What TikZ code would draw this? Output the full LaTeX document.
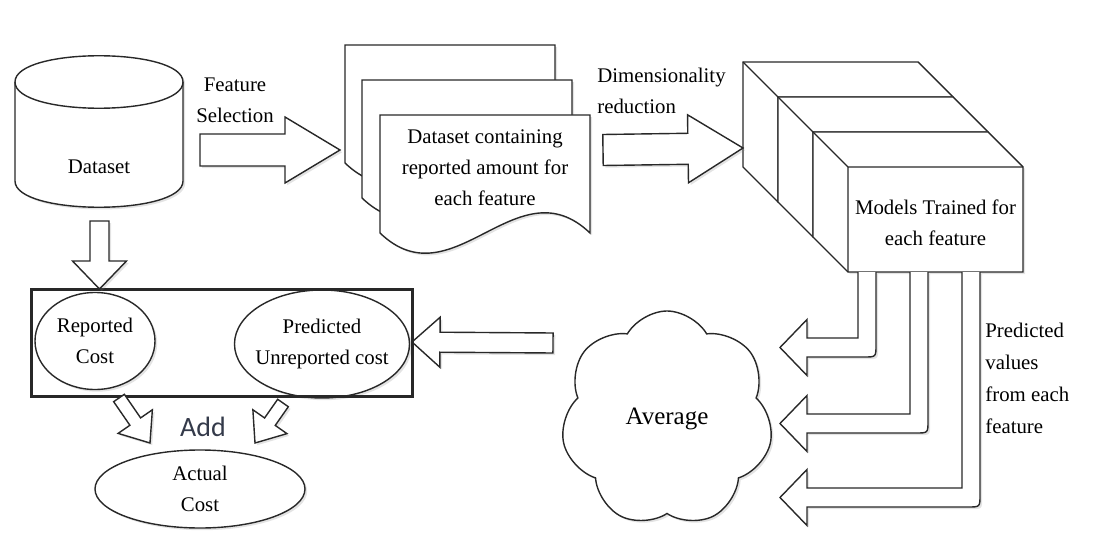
\documentclass[tikz,border=0pt]{standalone}
\usepackage{fontspec}
\setmainfont{Liberation Serif}
\newfontfamily\addfont{Carlito}
\usetikzlibrary{calc,shapes.geometric,shapes.symbols,shadows}

\definecolor{inkgray}{RGB}{40,40,40}
\definecolor{addblue}{RGB}{52,58,74}

\tikzset{
  shape line/.style={draw=inkgray, line width=0.7pt, fill=white,
    drop shadow={opacity=0.22, shadow xshift=1.1pt, shadow yshift=-1.1pt}},
  plain line/.style={draw=inkgray, line width=0.7pt},
  cost/.style={shape line, ellipse, inner sep=0pt},
  caption/.style={inner sep=0pt, align=center},
}

% block arrow: tail, tip, shaft half width, head half width, head length
\newcommand{\blockarrow}[5]{%
  \coordinate (hb) at ($(#2)!#5!(#1)$);
  \draw[shape line] ($(#1)!#3!90:(#2)$) -- ($(hb)!#3!90:(#2)$) -- ($(hb)!#4!90:(#2)$)
    -- (#2) -- ($(hb)!#4!-90:(#2)$) -- ($(hb)!#3!-90:(#2)$) -- ($(#1)!#3!-90:(#2)$) -- cycle;}

\newcommand{\docsheet}[1]{%
  \draw[shape line, shift={(#1)}] (0,0) -- (210,0) -- (210,118)
    .. controls (137,48) and (73,188) .. (0,118) -- cycle;}

\newcommand{\modelslab}[1]{%
  \draw[shape line, shift={(#1)}] (-35,-35) -- (140,-35) -- (175,0) -- (175,105)
    -- (0,105) -- (-35,70) -- cycle;
  \draw[plain line, shift={(#1)}] (-35,-35) -- (0,0) -- (175,0) (0,0) -- (0,105);}

% bent arrow out of the models: inner x, inner y
\newcommand{\bentarrow}[2]{%
  \draw[shape line] (#1,272) -- (#1,#2) -- (807,#2) -- (807,{#2-18.5}) -- (780,{#2+9.5})
    -- (807,{#2+37.5}) -- (807,{#2+19}) -- ({#1+6},{#2+19})
    .. controls ({#1+18},{#2+19}) .. ({#1+18},{#2+7}) -- ({#1+18},272);}

\begin{document}
\begin{tikzpicture}[x=0.5pt, y=-0.5pt, font=\fontsize{10.4}{15.5}\selectfont]
  \useasboundingbox (0,0) rectangle (1098,556);

  % dataset
  \draw[shape line] (15,82) -- (15,181) .. controls (15,216) and (183,216) .. (183,181)
    -- (183,82) .. controls (183,47) and (15,47) .. (15,82) -- cycle;
  \draw[plain line] (15,82) .. controls (15,117) and (183,117) .. (183,82);
  \node (dataset) at (99,167) {Dataset};

  % documents
  \docsheet{345,45}
  \docsheet{362,80}
  \docsheet{380,115}
  \node[caption] (docs) at (485,168) {Dataset containing\\reported amount for\\each feature};

  % models
  \modelslab{778,97}
  \modelslab{813,132}
  \modelslab{848,167}
  \node[caption] (models) at (935.5,222.5) {Models Trained for\\each feature};

  % top arrows
  \coordinate (fs tail) at (200,150);
  \coordinate (fs tip) at (340,150);
  \blockarrow{fs tail}{fs tip}{8pt}{16.5pt}{27.5pt}
  \node[caption] (fslabel) at (235,100) {Feature\\Selection};
  \coordinate (dr tail) at (603,150);
  \coordinate (dr tip) at (743,148);
  \blockarrow{dr tail}{dr tip}{7.75pt}{17pt}{27.5pt}
  \node[caption, align=left, anchor=west] (drlabel) at (597,91) {Dimensionality\\reduction};

  % predicted values
  \bentarrow{858}{338}
  \bentarrow{910}{414}
  \bentarrow{962}{488}
  \node[caption, align=left, anchor=west, font=\fontsize{10.4}{16}\selectfont] (pvlabel) at (985,378)
    {Predicted\\values\\from each\\feature};

  % average
  \node[shape line, cloud, cloud puffs=7, cloud puff arc=120, cloud ignores aspect,
    minimum width=106pt, minimum height=108pt, font=\fontsize{12.5}{15}\selectfont] (avg) at (667,419) {Average};
  \coordinate (avg tail) at (553,343);
  \coordinate (avg tip) at (412,342);
  \blockarrow{avg tail}{avg tip}{5pt}{12.5pt}{14pt}

  % costs
  \node[shape line, minimum width=190pt, minimum height=53pt] (costs) at (222,343) {};
  \node[cost, minimum width=60pt, minimum height=48.5pt,
    label={[caption]center:Reported\\Cost}] (reported) at (95,341) {};
  \node[cost, minimum width=87.5pt, minimum height=54pt,
    label={[caption]center:Predicted\\Unreported cost}] (predicted) at (322,344) {};
  \draw[inkgray, line width=1.4pt] (costs.south west) rectangle (costs.north east);

  \coordinate (ds tail) at (99.5,221);
  \coordinate (ds tip) at (99.5,289);
  \blockarrow{ds tail}{ds tip}{4.75pt}{13.5pt}{14pt}

  % adding up
  \coordinate (rc tail) at (119,398);
  \coordinate (rc tip) at (150,443);
  \blockarrow{rc tail}{rc tip}{3.25pt}{10.4pt}{13pt}
  \coordinate (pc tail) at (283,403);
  \coordinate (pc tip) at (255,443);
  \blockarrow{pc tail}{pc tip}{3.25pt}{10.4pt}{13pt}
  \node[text=addblue, font=\addfont\fontsize{14}{16}\selectfont] (add) at (203,427) {Add};
  \node[cost, minimum width=105pt, minimum height=39pt,
    label={[caption]center:Actual\\Cost}] (actual) at (200,489) {};
\end{tikzpicture}
\end{document}
